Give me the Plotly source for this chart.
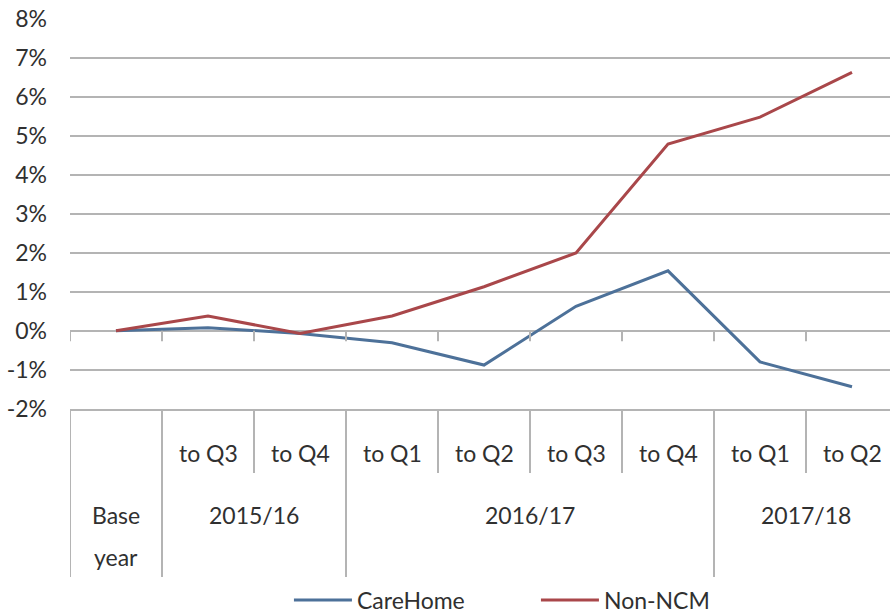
import plotly.graph_objects as go

periods = ["Base year", "to Q3", "to Q4", "to Q1", "to Q2", "to Q3", "to Q4", "to Q1", "to Q2"]
years = ["Base year", "2015/16", "2015/16", "2016/17", "2016/17", "2016/17", "2016/17", "2017/18", "2017/18"]
carehome = [0.0, 0.0008, -0.0007, -0.0031, -0.0088, 0.0063, 0.0154, -0.0080, -0.0144]
non_ncm = [0.0, 0.0038, -0.0007, 0.0038, 0.0113, 0.0200, 0.0480, 0.0549, 0.0664]
y_ticks = [-0.02, -0.01, 0.0, 0.01, 0.02, 0.03, 0.04, 0.05, 0.06, 0.07, 0.08]
y_ticktext = [f"{round(v * 100)}%" for v in y_ticks]

keys = [f"{y} {p}" for y, p in zip(years, periods)]

FONT = "Lato"
TXT = "#303030"
GRID = "#b4b4b4"
BLUE = "#4d7199"
RED = "#a9474a"
FS = 23

fig = go.Figure()
fig.add_trace(go.Scatter(x=keys, y=carehome, mode="lines", name="CareHome",
                         line=dict(color=BLUE, width=3)))
fig.add_trace(go.Scatter(x=keys, y=non_ncm, mode="lines", name="Non-NCM",
                         line=dict(color=RED, width=3)))

shapes = []
annotations = []
row1_bottom = -0.164
table_bottom = -0.431
n = len(keys)
for b in range(n + 1):
    pos = b - 0.5
    if b == 0 or b == n or years[b] != years[b - 1]:
        y1 = table_bottom
    else:
        y1 = row1_bottom
    shapes.append(dict(type="line", xref="x", yref="paper", x0=pos, x1=pos,
                       y0=0, y1=y1, line=dict(color=GRID, width=2)))
    shapes.append(dict(type="line", xref="x", yref="y", x0=pos, x1=pos,
                       y0=0, y1=-0.0027, line=dict(color=GRID, width=2)))

for i, p in enumerate(periods):
    if years[i] == p:
        continue
    annotations.append(dict(x=i, y=-0.113, xref="x", yref="paper", text=p,
                            yanchor="middle", xanchor="center",
                            showarrow=False, font=dict(family=FONT, size=FS, color=TXT)))
groups = []
for i, y in enumerate(years):
    if groups and groups[-1][0] == y:
        groups[-1][2] = i
    else:
        groups.append([y, i, i])
for name, s, e in groups:
    c = (s + e) / 2
    if name == "Base year":
        parts = name.split(" ")
        annotations.append(dict(x=c, y=-0.272, xref="x", yref="paper", text=parts[0],
                                yanchor="middle", xanchor="center",
                                showarrow=False, font=dict(family=FONT, size=FS, color=TXT)))
        annotations.append(dict(x=c, y=-0.38, xref="x", yref="paper", text=parts[1],
                                yanchor="middle", xanchor="center",
                                showarrow=False, font=dict(family=FONT, size=FS, color=TXT)))
    else:
        annotations.append(dict(x=c, y=-0.272, xref="x", yref="paper", text=name,
                                yanchor="middle", xanchor="center",
                                showarrow=False, font=dict(family=FONT, size=FS, color=TXT)))

fig.update_layout(
    width=890, height=616,
    margin=dict(l=70, r=0, t=19, b=207, autoexpand=False),
    paper_bgcolor="white", plot_bgcolor="white",
    font=dict(family=FONT, size=FS, color=TXT),
    showlegend=True,
    legend=dict(orientation="h", x=0.267, xanchor="left", y=-0.49, yanchor="middle",
                font=dict(family=FONT, size=FS, color=TXT), itemwidth=58,
                entrywidth=174, entrywidthmode="pixels", bgcolor="rgba(0,0,0,0)"),
    shapes=shapes,
    annotations=annotations,
)
fig.update_xaxes(type="category", categoryorder="array", categoryarray=keys,
                 range=[-0.5, 8.413], showticklabels=False, showgrid=False,
                 zeroline=False, showline=True, linecolor=GRID, linewidth=2,
                 ticks="")
fig.update_yaxes(range=[-0.0201, 0.0801], tickvals=y_ticks, ticktext=y_ticktext,
                 showgrid=True, gridcolor=GRID, gridwidth=2, zeroline=False,
                 showline=False, ticks="", ticklabelstandoff=22,
                 tickfont=dict(family=FONT, size=FS, color=TXT))

fig.write_html("out.html")
